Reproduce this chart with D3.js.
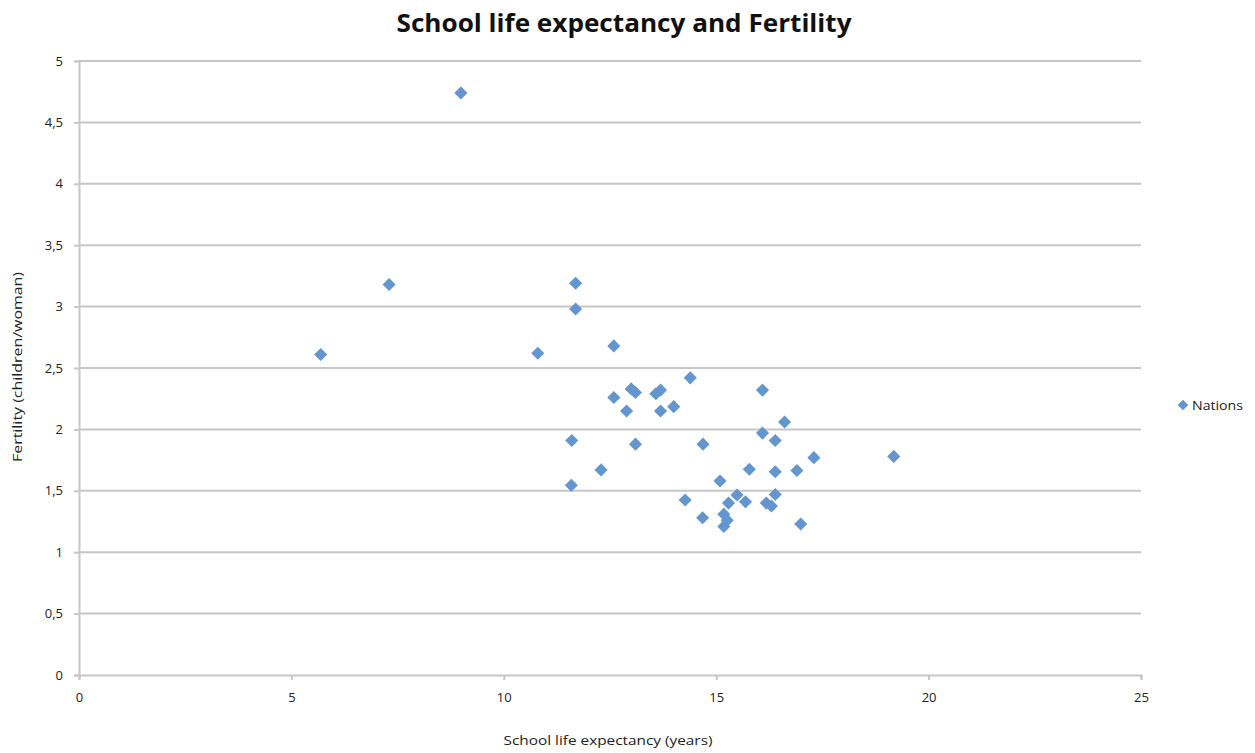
<!DOCTYPE html>
<html>
<head>
<meta charset="utf-8">
<script src="https://cdn.jsdelivr.net/npm/d3@7"></script>
<style>
  body { margin: 0; background: #fff; }
  svg { display: block; font-family: "Open Sans", "Noto Sans", sans-serif; }
</style>
</head>
<body>
<svg id="chart" width="1255" height="753"></svg>
<script>
// School life expectancy (years) per nation
const schoolYears = [
  8.99, 7.30, 5.69, 11.69, 11.69, 10.80, 12.59, 14.39, 13.00, 13.10,
  12.59, 13.58, 13.69, 12.89, 13.69, 14.00, 11.60, 13.10, 14.69, 12.29,
  16.09, 16.61, 16.09, 16.39, 17.30, 15.78, 16.39, 16.90, 11.59, 15.09,
  16.39, 14.27, 15.49, 15.29, 15.69, 16.18, 16.30, 14.68, 15.18, 15.26,
  15.18, 16.99, 19.18
];
// Fertility (children per woman) per nation
const fertility = [
  4.74, 3.18, 2.61, 3.19, 2.98, 2.62, 2.68, 2.42, 2.33, 2.30,
  2.26, 2.29, 2.32, 2.15, 2.15, 2.185, 1.91, 1.88, 1.88, 1.67,
  2.32, 2.06, 1.97, 1.91, 1.77, 1.675, 1.655, 1.665, 1.545, 1.58,
  1.47, 1.425, 1.466, 1.40, 1.41, 1.40, 1.376, 1.28, 1.31, 1.26,
  1.21, 1.23, 1.78
];
const xTicks = [0, 5, 10, 15, 20, 25];
const yTicks = [0, 0.5, 1, 1.5, 2, 2.5, 3, 3.5, 4, 4.5, 5];
const seriesName = "Nations";
const title = "School life expectancy and Fertility";
const xTitle = "School life expectancy (years)";
const yTitle = "Fertility (children/woman)";

const points = schoolYears.map((x, i) => ({ x, y: fertility[i] }));

const svg = d3.select("#chart");
const plot = { left: 79, right: 1141, top: 61, bottom: 675 };
const gridColor = "#c6c6c6";
const markColor = "#6396cf";
const fmt = d => String(d).replace(".", ",");

const x = d3.scaleLinear().domain([0, 25]).range([plot.left, plot.right]);
const y = d3.scaleLinear().domain([0, 5]).range([plot.bottom, plot.top]);

// horizontal gridlines
svg.append("g")
  .selectAll("line")
  .data(yTicks.filter(d => d > 0))
  .join("line")
  .attr("x1", plot.left).attr("x2", plot.right)
  .attr("y1", d => y(d)).attr("y2", d => y(d))
  .attr("stroke", gridColor).attr("stroke-width", 2);

// y axis
const yAxis = svg.append("g")
  .attr("transform", `translate(${plot.left},0)`)
  .call(d3.axisLeft(y).tickValues(yTicks).tickFormat(fmt).tickSize(5).tickPadding(11));
// x axis
const xAxis = svg.append("g")
  .attr("transform", `translate(0,${plot.bottom})`)
  .call(d3.axisBottom(x).tickValues(xTicks).tickFormat(fmt).tickSize(5).tickPadding(13));

[yAxis, xAxis].forEach(g => {
  g.select(".domain").attr("stroke", gridColor).attr("stroke-width", 2);
  g.selectAll(".tick line").attr("stroke", gridColor).attr("stroke-width", 2);
  g.selectAll(".tick text").attr("fill", "#222").style("font-size", "13px")
    .style("font-family", "'Open Sans', sans-serif");
});

// diamond markers
const diamond = d3.symbol().type(d3.symbolSquare).size(86);
svg.append("g")
  .selectAll("path")
  .data(points)
  .join("path")
  .attr("d", diamond)
  .attr("transform", d => `translate(${x(d.x)},${y(d.y)}) rotate(45)`)
  .attr("fill", markColor);

// title
svg.append("text")
  .attr("x", 624).attr("y", 32)
  .attr("text-anchor", "middle")
  .attr("textLength", 455).attr("lengthAdjust", "spacingAndGlyphs")
  .style("font-size", "25px").style("font-weight", "bold")
  .attr("fill", "#111")
  .text(title);

// axis titles
svg.append("text")
  .attr("x", 608).attr("y", 745)
  .attr("text-anchor", "middle")
  .attr("textLength", 209).attr("lengthAdjust", "spacingAndGlyphs")
  .style("font-size", "13px").attr("fill", "#222")
  .text(xTitle);
svg.append("text")
  .attr("transform", "translate(22,367) rotate(-90)")
  .attr("text-anchor", "middle")
  .attr("textLength", 190).attr("lengthAdjust", "spacingAndGlyphs")
  .style("font-size", "13px").attr("fill", "#222")
  .text(yTitle);

// legend
const legend = svg.append("g").attr("transform", "translate(1183,405)");
legend.append("path").attr("d", d3.symbol().type(d3.symbolSquare).size(56)).attr("transform", "rotate(45)").attr("fill", markColor);
legend.append("text").attr("x", 9).attr("y", 5)
  .attr("textLength", 51).attr("lengthAdjust", "spacingAndGlyphs")
  .style("font-size", "13px").attr("fill", "#222").text(seriesName);
</script>
</body>
</html>
